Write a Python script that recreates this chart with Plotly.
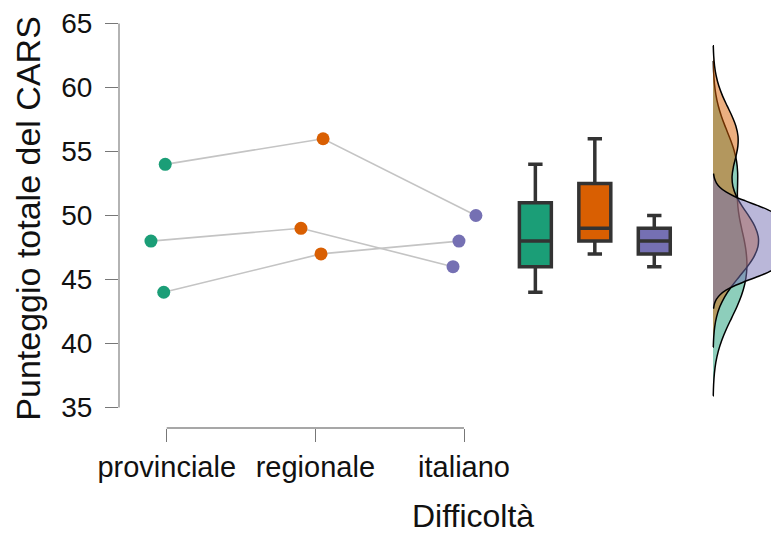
import numpy as np
import plotly.graph_objects as go

categories = ["provinciale", "regionale", "italiano"]
provinciale = [54, 48, 44]
regionale = [56, 49, 47]
italiano = [50, 46, 48]
y_ticks = [35, 40, 45, 50, 55, 60, 65]

# horizontal jitter (category units)
jitter_prov = [-0.01, -0.106, -0.02]
jitter_reg = [0.052, -0.097, 0.038]
jitter_ital = [0.08, -0.074, -0.034]

colors = ["#1b9e77", "#d95f02", "#7570b3"]
fills = ["rgba(27,158,119,0.5)", "rgba(217,95,2,0.5)", "rgba(117,112,179,0.5)"]

groups = [provinciale, regionale, italiano]
jitters = [jitter_prov, jitter_reg, jitter_ital]

box_pos = [2.48, 2.88, 3.28]
box_width = 0.215
dens_pos = 3.675
dens_max_width = 1.01   # full violin width for the tallest density

fig = go.Figure()

# subject lines
n_subj = len(provinciale)
for s in range(n_subj):
    xs = [ci + jitters[ci][s] for ci in range(3)]
    ys = [groups[ci][s] for ci in range(3)]
    fig.add_trace(go.Scatter(x=xs, y=ys, mode="lines",
                             line=dict(color="#c4c4c4", width=1.6),
                             showlegend=False, hoverinfo="skip"))

# points
for ci in range(3):
    fig.add_trace(go.Scatter(x=[ci + j for j in jitters[ci]], y=groups[ci],
                             mode="markers",
                             marker=dict(color=colors[ci], size=13),
                             showlegend=False))

# boxplots
for ci in range(3):
    fig.add_trace(go.Box(y=groups[ci], x0=box_pos[ci], width=box_width,
                         quartilemethod="inclusive", boxpoints=False,
                         fillcolor=colors[ci],
                         line=dict(color="#333333", width=3.5),
                         whiskerwidth=0.45, showlegend=False, name=categories[ci]))

# densities (half violins) on a common density scale
bws, peaks = [], []
for ci in range(3):
    d = np.array(groups[ci], dtype=float)
    q1, q3 = np.percentile(d, [25, 75])
    bw = 0.9 * min(d.std(ddof=1), (q3 - q1) / 1.34) * len(d) ** (-0.2)
    grid = np.linspace(d.min() - 3 * bw, d.max() + 3 * bw, 2001)
    dens = np.exp(-0.5 * ((grid[:, None] - d[None, :]) / bw) ** 2).sum(axis=1)
    dens /= len(d) * bw * np.sqrt(2 * np.pi)
    bws.append(bw)
    peaks.append(dens.max())
top_peak = max(peaks)

for ci in range(3):
    d = np.array(groups[ci], dtype=float)
    bw = bws[ci]
    fig.add_trace(go.Violin(y=groups[ci], x0=dens_pos, side="positive",
                            bandwidth=bw, spanmode="manual",
                            span=[d.min() - 3 * bw, d.max() + 3 * bw],
                            width=dens_max_width * peaks[ci] / top_peak,
                            scalegroup="g%d" % ci, scalemode="width",
                            points=False, box_visible=False, meanline_visible=False,
                            fillcolor=fills[ci],
                            line=dict(color="black", width=1.5),
                            showlegend=False, name=categories[ci]))

# range-frame axis lines
fig.add_shape(type="line", xref="paper", yref="y", x0=0, x1=0,
              y0=min(y_ticks), y1=max(y_ticks), line=dict(color="#8a8a8a", width=1.3))
fig.add_shape(type="line", xref="x", yref="paper", x0=0, x1=len(categories) - 1,
              y0=0, y1=0, line=dict(color="#8a8a8a", width=1.3))

fig.add_annotation(text="Punteggio totale del CARS", xref="paper", yref="paper",
                   x=-0.1375, y=0.505, textangle=-90, showarrow=False,
                   font=dict(size=34, color="#111"), xanchor="center", yanchor="middle")
fig.add_annotation(text="Difficoltà", xref="paper", yref="paper",
                   x=0.536, y=-0.213, showarrow=False,
                   font=dict(size=32, color="#111"), xanchor="center", yanchor="middle")

fig.update_layout(
    width=771, height=529,
    margin=dict(l=111, r=0, t=2, b=109),
    plot_bgcolor="white", paper_bgcolor="white",
    font=dict(family="Liberation Sans, Arial, sans-serif", color="#111"),
    xaxis=dict(range=[-0.321, 4.119], tickvals=[0, 1, 2], ticktext=categories,
               ticks="outside", ticklen=13, tickcolor="#777", tickwidth=1.3,
               showline=False, showgrid=False, zeroline=False,
               tickfont=dict(size=29, color="#111")),
    yaxis=dict(range=[33.39, 65.83], tickvals=y_ticks,
               ticks="outside", ticklen=13, tickcolor="#777", tickwidth=1.3,
               showline=False, showgrid=False, zeroline=False,
               ticklabelstandoff=7, ticklabeloverflow="allow",
               tickfont=dict(size=28, color="#111")),
)

fig.write_html("out.html")
